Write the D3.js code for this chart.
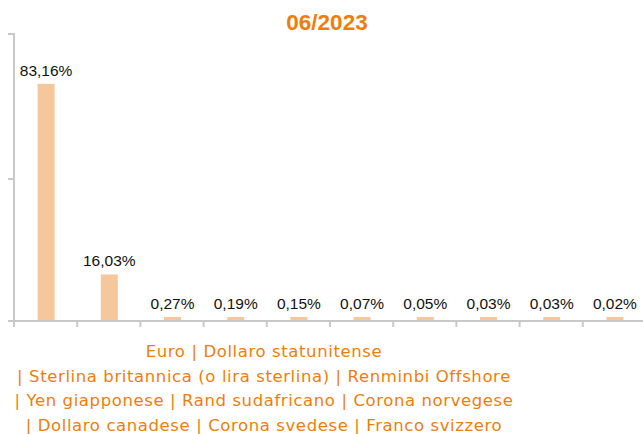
<html>
<head>
  <script src="https://d3js.org/d3.v7.min.js"></script>
  <style>
    body { margin: 0; background: white; }
  </style>
</head>
<body>
  <svg id="chart" width="643" height="434"></svg>
  <script>
    const title = "06/2023";
    const currencies = ["Euro", "Dollaro statunitense", "Sterlina britannica (o lira sterlina)", "Renminbi Offshore",
      "Yen giapponese", "Rand sudafricano", "Corona norvegese", "Dollaro canadese", "Corona svedese", "Franco svizzero"];
    const shares = [83.16, 16.03, 0.27, 0.19, 0.15, 0.07, 0.05, 0.03, 0.03, 0.02];
    const legendLines = [
      "Euro | Dollaro statunitense",
      "| Sterlina britannica (o lira sterlina) | Renminbi Offshore",
      "| Yen giapponese | Rand sudafricano | Corona norvegese",
      "| Dollaro canadese | Corona svedese | Franco svizzero"
    ];

    const svg = d3.select("svg#chart");
    const axisColor = "#c9c9c9";
    const orange = "#f07d0a";

    const x = d3.scaleBand().domain(currencies).range([14, 646]);
    const y = d3.scaleLinear().domain([0, 100]).range([321, 37]);

    // y axis: line + ticks pointing left
    svg.append("line")
      .attr("x1", 14).attr("x2", 14)
      .attr("y1", 33).attr("y2", 327)
      .style("stroke", axisColor).style("stroke-width", 2);
    [0, 50, 100].forEach(t => {
      const ty = t == 100 ? 34 : (t == 50 ? 179 : y(t));
      svg.append("line")
        .attr("x1", 8).attr("x2", 14)
        .attr("y1", ty).attr("y2", ty)
        .style("stroke", axisColor).style("stroke-width", 2);
    });

    // x axis
    svg.append("line")
      .attr("x1", 8).attr("x2", 643)
      .attr("y1", y(0)).attr("y2", y(0))
      .style("stroke", axisColor).style("stroke-width", 2);
    currencies.forEach(c => {
      svg.append("line")
        .attr("x1", x(c)).attr("x2", x(c))
        .attr("y1", y(0)).attr("y2", y(0) + 6)
        .style("stroke", axisColor).style("stroke-width", 2);
    });

    // bars + value labels
    const barW = 17;
    currencies.forEach((c, i) => {
      const h = Math.max(y(0) - y(shares[i]), 3);
      const cx = x(c) + x.bandwidth() / 2 + 0.5;
      svg.append("rect")
        .attr("x", cx - barW / 2)
        .attr("y", y(0) - h - 1)
        .attr("width", barW)
        .attr("height", h)
        .style("fill", "#f6c79c");
      svg.append("text")
        .attr("x", cx)
        .attr("y", y(0) - h - 9)
        .attr("text-anchor", "middle")
        .style("font-family", "Liberation Sans, Arial, sans-serif")
        .style("font-size", "15.5px")
        .style("fill", "#111")
        .text(shares[i].toFixed(2).replace(".", ",") + "%");
    });

    // title
    svg.append("text")
      .attr("x", 327)
      .attr("y", 30)
      .attr("text-anchor", "middle")
      .style("font-family", "Liberation Sans, Arial, sans-serif")
      .style("font-weight", "bold")
      .style("font-size", "22.5px")
      .style("fill", orange)
      .text(title);

    // legend text
    legendLines.forEach((l, i) => {
      svg.append("text")
        .attr("x", 264)
        .attr("y", 357 + i * 24.6)
        .attr("text-anchor", "middle")
        .style("font-family", "DejaVu Sans, Verdana, sans-serif")
        .style("font-size", "16.5px")
        .style("letter-spacing", "0.6px")
        .style("fill", orange)
        .text(l);
    });
  </script>
</body>
</html>
